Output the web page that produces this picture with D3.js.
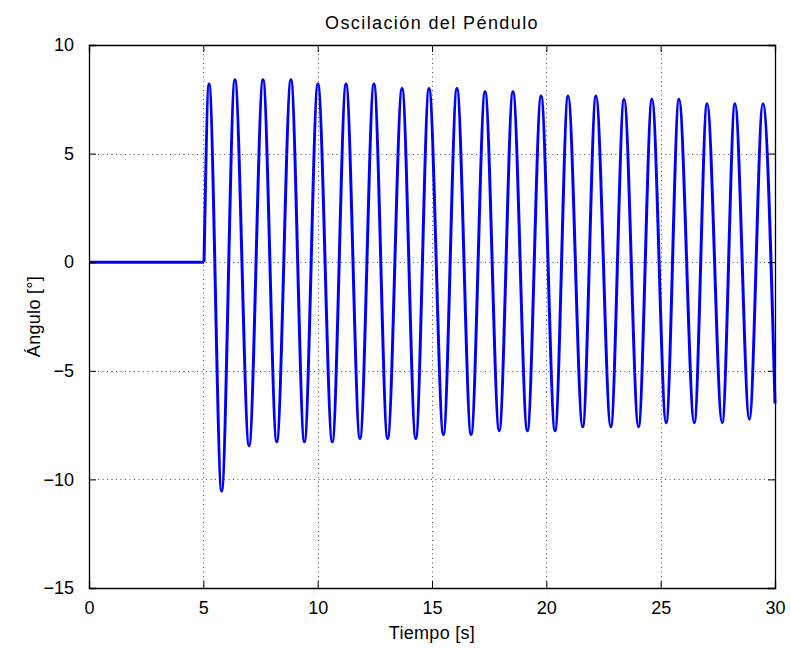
<!DOCTYPE html>
<html>
<head>
<meta charset="utf-8">
<script src="https://cdn.jsdelivr.net/npm/d3@7"></script>
<style>
  body { margin: 0; background: #fff; }
  svg { display: block; }
  text { font-family: "Liberation Sans", Arial, Helvetica, sans-serif; fill: #000; }
</style>
</head>
<body>
<script>
// ---- data ----
const flatTimes = [0, 5.03];
const flatValues = [0, 0];
const peakTimes = [5.25, 6.38, 7.61, 8.83, 10.01, 11.24, 12.46, 13.69, 14.87, 16.09, 17.32, 18.54, 19.77, 20.95, 22.17, 23.40, 24.62, 25.80, 27.03, 28.25, 29.47];
const peakValues = [8.2, 8.4, 8.4, 8.4, 8.2, 8.2, 8.2, 8.0, 8.0, 8.0, 7.85, 7.85, 7.65, 7.65, 7.65, 7.5, 7.5, 7.5, 7.3, 7.3, 7.3];
const troughTimes = [5.80, 7.00, 8.21, 9.42, 10.64, 11.85, 13.06, 14.29, 15.50, 16.71, 17.94, 19.17, 20.38, 21.59, 22.82, 24.03, 25.24, 26.47, 27.69, 28.88];
const troughValues = [-10.54, -8.45, -8.27, -8.27, -8.27, -8.12, -8.12, -8.12, -7.93, -7.93, -7.76, -7.76, -7.76, -7.58, -7.58, -7.58, -7.39, -7.39, -7.39, -7.23];
const endTime = [30];
const endValue = [-6.5];
const xTicks = [0, 5, 10, 15, 20, 25, 30];
const yTicks = [10, 5, 0, -5, -10, -15];
const titleText = "Oscilación del Péndulo";
const xLabel = "Tiempo [s]";
const yLabel = "Ángulo [°]";

// ---- layout ----
const W = 791, H = 649;
const m = { left: 89, top: 45, right: 791 - 775, bottom: 649 - 588 };
const pw = W - m.left - m.right, ph = H - m.top - m.bottom;

const svg = d3.select("body").append("svg").attr("width", W).attr("height", H);
const g = svg.append("g").attr("transform", `translate(${m.left},${m.top})`);

const x = d3.scaleLinear().domain([0, 30]).range([0, pw]);
const y = d3.scaleLinear().domain([-15, 10]).range([ph, 0]);

// grid
const grid = g.append("g").attr("stroke", "#555").attr("stroke-width", 1).attr("stroke-dasharray", "1,3.5");
xTicks.slice(1, -1).forEach(t => grid.append("line").attr("x1", Math.round(x(t)) + 0.5).attr("x2", Math.round(x(t)) + 0.5).attr("y1", 0).attr("y2", ph));
yTicks.slice(1, -1).forEach(t => grid.append("line").attr("y1", Math.round(y(t)) + 0.5).attr("y2", Math.round(y(t)) + 0.5).attr("x1", 0).attr("x2", pw));

// series
const osc = [];
osc.push({ t: flatTimes[1], v: flatValues[1] });
peakTimes.forEach((t, i) => osc.push({ t, v: peakValues[i] }));
troughTimes.forEach((t, i) => osc.push({ t, v: troughValues[i] }));
osc.push({ t: endTime[0], v: endValue[0] });
osc.sort((a, b) => a.t - b.t);
const flat = flatTimes.map((t, i) => ({ t, v: flatValues[i] }));

const lineLin = d3.line().x(d => x(d.t)).y(d => y(d.v));
const lineCurve = d3.line().x(d => x(d.t)).y(d => y(d.v)).curve(d3.curveMonotoneX);
g.append("path").attr("d", lineLin(flat)).attr("fill", "none").attr("stroke", "#0000ff").attr("stroke-width", 3).attr("stroke-linejoin", "round");
g.append("path").attr("d", lineCurve(osc)).attr("fill", "none").attr("stroke", "#0000ff").attr("stroke-width", 3).attr("stroke-linejoin", "round");

// axes (ticks inside, all four sides)
const tl = 7;
const fs = 18;
const xa = g.append("g").attr("transform", `translate(0,${ph})`)
  .call(d3.axisBottom(x).tickValues(xTicks).tickSize(-tl).tickPadding(tl + 6).tickFormat(d3.format("d")));
const xt = g.append("g").call(d3.axisTop(x).tickValues(xTicks).tickSize(-tl).tickFormat(""));
const yl = g.append("g").call(d3.axisLeft(y).tickValues(yTicks).tickSize(-tl).tickPadding(tl + 8).tickFormat(d => d < 0 ? "\u2212" + Math.abs(d) : d));
const yr = g.append("g").attr("transform", `translate(${pw},0)`).call(d3.axisRight(y).tickValues(yTicks).tickSize(-tl).tickFormat(""));
[xa, xt, yl, yr].forEach(a => {
  a.select(".domain").attr("stroke", "#000").attr("stroke-width", 1.3);
  a.selectAll(".tick line").attr("stroke", "#000").attr("stroke-width", 1);
  a.selectAll("text").attr("font-size", fs).attr("font-family", "Liberation Sans, Arial, sans-serif");
});

// title and labels
svg.append("text").attr("x", m.left + pw / 2).attr("y", 29).attr("text-anchor", "middle").attr("font-size", fs).attr("letter-spacing", 1.4).text(titleText);
svg.append("text").attr("x", m.left + pw / 2).attr("y", 639).attr("text-anchor", "middle").attr("font-size", fs).attr("letter-spacing", 0.3).text(xLabel);
svg.append("text").attr("transform", `translate(40,${m.top + ph / 2}) rotate(-90)`).attr("text-anchor", "middle").attr("font-size", fs).attr("letter-spacing", 0.3).text(yLabel);
</script>
</body>
</html>
